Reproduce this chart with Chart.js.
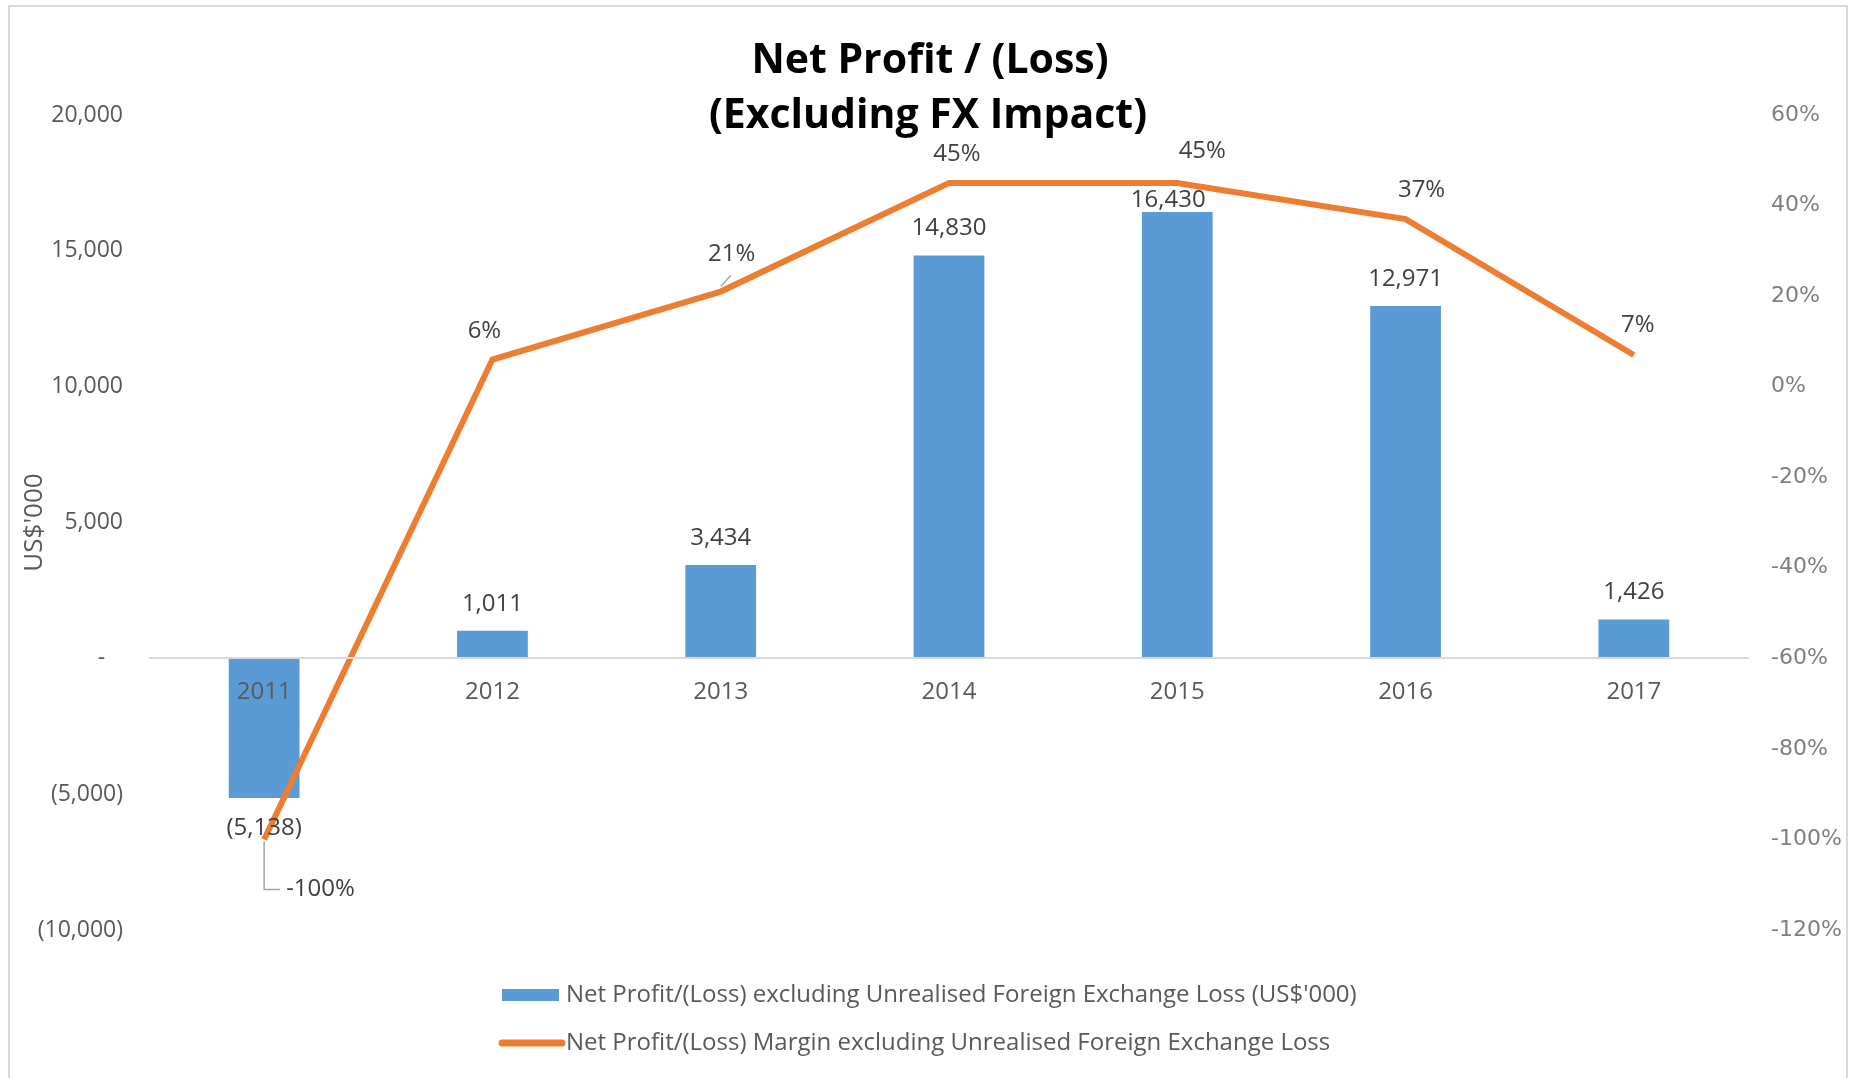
<!DOCTYPE html>
<html><head><meta charset="utf-8">
<script src="https://cdn.jsdelivr.net/npm/chart.js@4/dist/chart.umd.min.js"></script>
<style>html,body{margin:0;padding:0;background:#fff;}#wrap{width:1853px;height:1078px;}</style>
</head><body><div id="wrap"><canvas id="c" width="1853" height="1078"></canvas></div>
<script>
const years = ['2011', '2012', '2013', '2014', '2015', '2016', '2017'];
const netProfit = [-5138, 1011, 3434, 14830, 16430, 12971, 1426];
const marginPct = [-100, 6, 21, 45, 45, 37, 7];
const titleLines = ['Net Profit / (Loss)', '(Excluding FX Impact)'];
const barSeriesName = "Net Profit/(Loss) excluding Unrealised Foreign Exchange Loss (US$'000)";
const lineSeriesName = 'Net Profit/(Loss) Margin excluding Unrealised Foreign Exchange Loss';
const yAxisTitle = "US$'000";
const leftAxisRange = [-10000, 20000, 5000];
const rightAxisRange = [-120, 60, 20];

const BLUE = '#5b9bd5', ORANGE = '#ed7d31', GREY = '#595959';

function withCommas(n) { return String(Math.round(n)).replace(/\B(?=(\d{3})+(?!\d))/g, ','); }
function fmtNum(v) {
  if (v === 0) return '-   ';
  return v < 0 ? '(' + withCommas(-v) + ')' : withCommas(v);
}

const labelPlugin = {
  id: 'labels',
  afterDraw(chart) {
    const ctx = chart.ctx;
    ctx.save();
    // frame
    ctx.strokeStyle = '#d9d9d9'; ctx.lineWidth = 2;
    ctx.strokeRect(9, 6, 1838, 1200);
    // title
    ctx.fillStyle = '#000'; ctx.textAlign = 'center'; ctx.textBaseline = 'middle';
    ctx.font = 'bold 41px "Open Sans"';
    ctx.fillText(titleLines[0], 930, 61);
    ctx.fillText(titleLines[1], 928, 116);

    // bar labels
    ctx.font = '24px "Open Sans"'; ctx.fillStyle = '#404040';
    const barNudge = {4: [-9, -12]};
    chart.getDatasetMeta(0).data.forEach((el, i) => {
      const v = chart.data.datasets[0].data[i];
      let dx = 0, dy = v < 0 ? 30 : -27;
      if (barNudge[i]) { dx = barNudge[i][0]; dy = barNudge[i][1]; }
      ctx.fillText(fmtNum(v), el.x + dx, el.y + dy);
    });

    // line labels
    const lineNudge = [[0, 0], [-8, -28], [11, -37], [8, -29], [25, -32], [16, -29], [4, -30]];
    chart.getDatasetMeta(1).data.forEach((el, i) => {
      const v = chart.data.datasets[1].data[i];
      const txt = v + '%';
      if (i === 0) {
        ctx.strokeStyle = '#a6a6a6'; ctx.lineWidth = 1.5;
        ctx.beginPath(); ctx.moveTo(el.x, el.y + 2); ctx.lineTo(el.x, el.y + 50); ctx.lineTo(el.x + 16, el.y + 50); ctx.stroke();
        ctx.textAlign = 'left';
        ctx.fillText(txt, el.x + 22, el.y + 50);
        ctx.textAlign = 'center';
        return;
      }
      if (i === 2) {
        ctx.strokeStyle = '#a6a6a6'; ctx.lineWidth = 1.5;
        ctx.beginPath(); ctx.moveTo(el.x, el.y - 5); ctx.lineTo(el.x + 10, el.y - 16); ctx.stroke();
      }
      ctx.fillText(txt, el.x + lineNudge[i][0], el.y + lineNudge[i][1]);
    });

    // legend
    const ds = chart.data.datasets;
    ctx.textAlign = 'left'; ctx.font = '24px "Open Sans"';
    ctx.fillStyle = ds[0].backgroundColor;
    ctx.fillRect(502, 989, 57, 12);
    ctx.fillStyle = GREY;
    ctx.fillText(ds[0].label, 566, 995);
    ctx.strokeStyle = ds[1].borderColor; ctx.lineWidth = 7; ctx.lineCap = 'round';
    ctx.beginPath(); ctx.moveTo(502, 1043); ctx.lineTo(562, 1043); ctx.stroke();
    ctx.fillText(ds[1].label, 566, 1043);
    ctx.restore();
  }
};

Chart.defaults.font.family = 'Open Sans';

new Chart(document.getElementById('c'), {
  type: 'bar',
  data: {
    labels: years,
    datasets: [
      { type: 'bar', label: barSeriesName, data: netProfit, backgroundColor: BLUE, yAxisID: 'y',
        barPercentage: 0.31, categoryPercentage: 1, order: 2 },
      { type: 'line', label: lineSeriesName, data: marginPct, borderColor: ORANGE, backgroundColor: ORANGE,
        borderWidth: 6, pointRadius: 0, tension: 0, yAxisID: 'y1', order: 1 }
    ]
  },
  options: {
    responsive: false,
    animation: false,
    layout: { padding: { top: 115, bottom: 148, left: 0, right: 0 } },
    plugins: { legend: { display: false }, title: { display: false }, tooltip: { enabled: false } },
    scales: {
      x: {
        position: { y: 0 }, offset: true,
        grid: { display: false, drawTicks: false },
        border: { display: true, color: '#d9d9d9', width: 2, z: 1 },
        ticks: { color: GREY, font: { size: 24 }, padding: 19, maxRotation: 0, autoSkip: false, z: 2 }
      },
      y: {
        position: 'left', min: leftAxisRange[0], max: leftAxisRange[1],
        ticks: { stepSize: leftAxisRange[2], callback: v => fmtNum(v), color: GREY, font: { size: 23 }, padding: 27 },
        grid: { display: false, drawTicks: false }, border: { display: false },
        title: { display: true, text: yAxisTitle, color: GREY, font: { size: 26 }, padding: { top: 19, bottom: 0 } },
        afterFit(s) { s.width = 150; }
      },
      y1: {
        position: 'right', min: rightAxisRange[0], max: rightAxisRange[1],
        ticks: { stepSize: rightAxisRange[2], callback: v => v + '%', color: '#7f7f7f', font: { size: 22, family: 'DejaVu Sans' }, padding: 23 },
        grid: { display: false, drawTicks: false }, border: { display: false },
        afterFit(s) { s.width = 105; }
      }
    }
  },
  plugins: [labelPlugin]
});
</script></body></html>
